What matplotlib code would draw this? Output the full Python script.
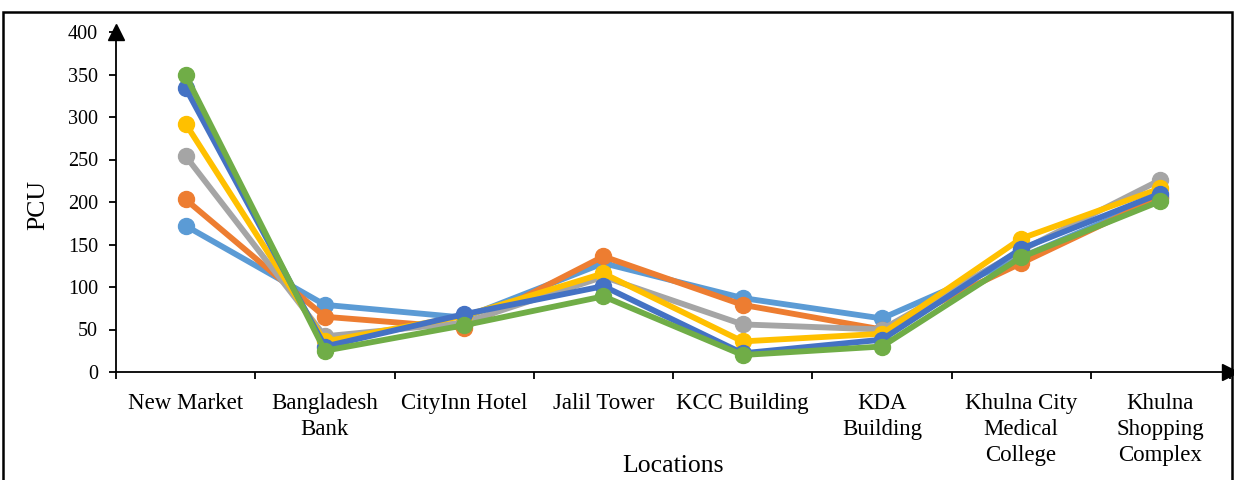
import matplotlib
matplotlib.use("Agg")
import matplotlib.pyplot as plt
from matplotlib.patches import Rectangle

plt.rcParams['font.family'] = ['Liberation Serif', 'DejaVu Serif']

locations = ["New Market", "Bangladesh\nBank", "CityInn Hotel", "Jalil Tower",
             "KCC Building", "KDA\nBuilding", "Khulna City\nMedical\nCollege",
             "Khulna\nShopping\nComplex"]

series_1 = [172, 79, 64, 128, 87, 63, 135, 205]
series_2 = [203, 65, 52, 136, 79, 50, 128, 206]
series_3 = [254, 42, 58, 112, 56, 50, 143, 226]
series_4 = [292, 36, 66, 116, 36, 45, 157, 216]
series_5 = [334, 30, 68, 101, 22, 38, 145, 210]
series_6 = [349, 25, 55, 89, 20, 30, 135, 201]

all_series = [series_1, series_2, series_3, series_4, series_5, series_6]
colors = ["#5B9BD5", "#ED7D31", "#A5A5A5", "#FFC000", "#4472C4", "#70AD47"]

y_ticks = list(range(0, 401, 50))

W, H = 1234, 480
fig = plt.figure(figsize=(W / 100, H / 100), dpi=100)
ax = fig.add_axes([116 / W, 1 - 372 / H, (1230 - 116) / W, (372 - 32) / H])

x = list(range(len(locations)))
for vals, c in zip(all_series, colors):
    ax.plot(x, vals, color=c, lw=4.2, marker='o', ms=11.5, solid_capstyle='round',
            solid_joinstyle='round', zorder=3)

ax.set_xlim(-0.5, len(locations) - 0.5)
ax.set_ylim(0, 400)
ax.set_yticks(y_ticks)
ax.set_yticklabels([str(v) for v in y_ticks], fontsize=14.5)
ax.set_xticks(x)
ax.set_xticklabels(locations, fontsize=16.5, linespacing=1.32)
ax.tick_params(axis='x', length=0, pad=15)
ax.set_xticks([i - 0.5 for i in range(len(locations) + 1)], minor=True)
ax.tick_params(axis='x', which='minor', length=5, width=1.3, direction='out')
ax.tick_params(axis='y', length=5, width=1.3, direction='out', pad=8)

for s in ['top', 'right']:
    ax.spines[s].set_visible(False)
for s in ['left', 'bottom']:
    ax.spines[s].set_linewidth(1.3)
    ax.spines[s].set_color('black')

fig.text(38 / W, 1 - 205 / H, "PCU", fontsize=18.5, rotation=90,
         ha='center', va='center')
fig.text(673 / W, 1 - 466 / H, "Locations", fontsize=18.5,
         ha='center', va='center')

# axis arrowheads
ax.plot(0, 1.0, marker='^', color='black', ms=11, transform=ax.transAxes, clip_on=False)
ax.plot(1.0, 0, marker='>', color='black', ms=11, transform=ax.transAxes, clip_on=False)

# frame around the figure
fig.add_artist(Rectangle((3 / W, -0.05), (1232 - 3) / W, (1 - 12 / H) + 0.05,
                         transform=fig.transFigure, fill=False, lw=1.8,
                         edgecolor='black'))

fig.savefig("out.png", dpi=100)
